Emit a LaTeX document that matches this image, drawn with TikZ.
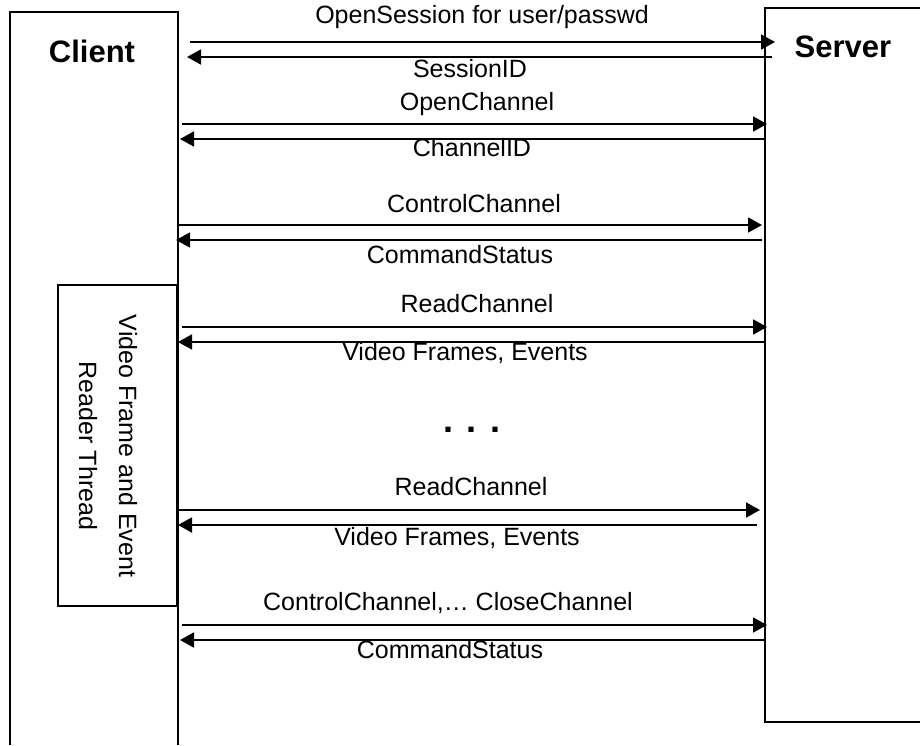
\documentclass[tikz,border=0pt]{standalone}
\usepackage{fontspec}
\setmainfont{Liberation Sans}
\usetikzlibrary{arrows.meta}

\begin{document}
\begin{tikzpicture}[x=1pt,y=-1pt,
  msg/.style={line width=1.8pt,-{Triangle[length=14pt,width=15pt]}},
  lbl/.style={font=\fontsize{25}{28}\selectfont,inner sep=0pt,anchor=base},
  head/.style={font=\fontsize{31}{34}\selectfont\bfseries,inner sep=0pt,anchor=base}]
  \useasboundingbox (0,0) rectangle (920,745);
  % lifelines
  \draw[line width=1.6pt] (10,745)--(10,12)--(178,12)--(178,745);
  \draw[line width=1.6pt] (920,8)--(765,8)--(765,722)--(920,722);
  \node[head] (client) at (92,62) {Client};
  \node[head] (server) at (843,57) {Server};
  % reader thread
  \node[draw,line width=1.6pt,minimum width=119pt,minimum height=321pt,inner sep=0pt] (reader) at (117.5,445.5) {};
  \node[font=\fontsize{25}{40}\selectfont,align=center,rotate=-90,inner sep=0pt] (readertxt) at (108,446) {Video Frame and Event\\Reader Thread};

  % session
  \coordinate (c1a) at (190,42);  \coordinate (s1a) at (775,42);
  \coordinate (s1b) at (772,57);  \coordinate (c1b) at (187,57);
  \draw[msg] (c1a)--(s1a);
  \draw[msg] (s1b)--(c1b);
  \node[lbl] (open) at (482,23) {OpenSession for user/passwd};
  \node[lbl] (sid) at (470,77) {SessionID};

  % channel
  \coordinate (c2a) at (182,124); \coordinate (s2a) at (767,124);
  \coordinate (s2b) at (765,139); \coordinate (c2b) at (180,139);
  \draw[msg] (c2a)--(s2a);
  \draw[msg] (s2b)--(c2b);
  \node[lbl] (opench) at (477,110) {OpenChannel};
  \node[lbl] (chid) at (472,156) {ChannelID};

  % control
  \coordinate (c3a) at (178,225); \coordinate (s3a) at (762,225);
  \coordinate (s3b) at (762,240); \coordinate (c3b) at (176,240);
  \draw[msg] (c3a)--(s3a);
  \draw[msg] (s3b)--(c3b);
  \node[lbl] (ctrl) at (474,212) {ControlChannel};
  \node[lbl] (stat) at (460,263) {CommandStatus};

  % read
  \coordinate (c4a) at (182,327); \coordinate (s4a) at (767,327);
  \coordinate (s4b) at (765,342); \coordinate (c4b) at (178,342);
  \draw[msg] (c4a)--(s4a);
  \draw[msg] (s4b)--(c4b);
  \node[lbl] (read) at (477,312) {ReadChannel};
  \node[lbl] (frames) at (465,360) {Video Frames, Events};

  \node[font=\fontsize{36}{36}\selectfont\bfseries,inner sep=0pt,anchor=base] (dots) at (472,432) {. . .};

  % read again
  \coordinate (c6a) at (178,510); \coordinate (s6a) at (760,510);
  \coordinate (s6b) at (757,525); \coordinate (c6b) at (178,525);
  \draw[msg] (c6a)--(s6a);
  \draw[msg] (s6b)--(c6b);
  \node[lbl] (readb) at (471,495) {ReadChannel};
  \node[lbl] (framesb) at (457,545) {Video Frames, Events};

  % close
  \coordinate (c7a) at (182,625); \coordinate (s7a) at (767,625);
  \coordinate (s7b) at (765,640); \coordinate (c7b) at (180,640);
  \draw[msg] (c7a)--(s7a);
  \draw[msg] (s7b)--(c7b);
  \node[lbl] (close) at (448,610) {ControlChannel,… CloseChannel};
  \node[lbl] (statb) at (450,658) {CommandStatus};
\end{tikzpicture}
\end{document}
